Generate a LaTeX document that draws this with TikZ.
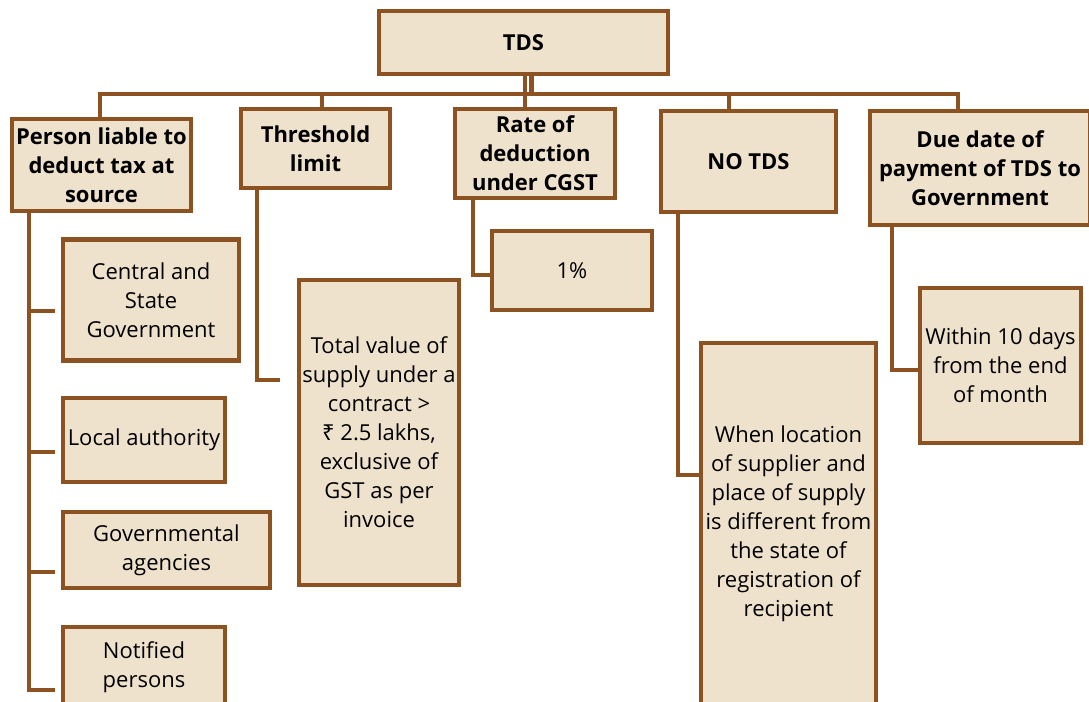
\documentclass[tikz,border=0pt]{standalone}
\usepackage{fontspec}
\setmainfont{Open Sans}
\newfontfamily\rupeefont{Noto Sans}
\usepackage{xcolor}
\usepackage{tikz}
\usetikzlibrary{positioning,calc}
\definecolor{TDSBrown}{RGB}{140,82,33}
\definecolor{TDSBeige}{RGB}{239,226,204}
\tikzset{
    headbox/.style={rectangle, draw=TDSBrown, fill=TDSBeige, line width=3.2pt, inner sep=0pt, align=center, font=\fontsize{16.5}{21.75}\selectfont\bfseries},
    itembox/.style={rectangle, draw=TDSBrown, fill=TDSBeige, line width=3.2pt, inner sep=0pt, align=center, font=\fontsize{16.5}{21.75}\selectfont},
    conn/.style={draw=TDSBrown, line width=3.2pt}
}

\begin{document}
\begin{tikzpicture}[
        % 1 unit = 1 pixel of the layout, y grows downwards
        x=0.75pt, y=-0.75pt
    ]
    \useasboundingbox (0,0) rectangle (1089,701);
    \clip (0,0) rectangle (1089,701);

    % --- ROOT ---
    \node[headbox, minimum width=216.75pt, minimum height=47.25pt] (tds) at (523.5,42.5) {TDS};

    % --- HEADINGS ---
    \node[headbox, minimum width=134.25pt, minimum height=69pt] (person) at (101.5,165) {Person liable to\\deduct tax at\\source};
    \node[headbox, minimum width=111.75pt, minimum height=59.25pt] (threshold) at (315.5,148.5) {Threshold\\limit};
    \node[headbox, minimum width=120pt, minimum height=66.75pt] (rate) at (535,153.5) {Rate of\\deduction\\under CGST};
    \node[headbox, minimum width=131.25pt, minimum height=75.75pt] (notds) at (748.5,161.5) {NO TDS};
    \node[headbox, minimum width=165pt, minimum height=85.5pt] (due) at (980,168) {Due date of\\payment of TDS to\\Government};

    % --- ITEMS ---
    \node[itembox, minimum width=132pt, minimum height=90.75pt] (central) at (151,300) {Central and\\State\\Government};
    \node[itembox, minimum width=121.5pt, minimum height=63pt] (local) at (144,440) {Local authority};
    \node[itembox, minimum width=155.25pt, minimum height=57pt] (govt) at (166.5,550) {Governmental\\agencies};
    \node[itembox, minimum width=121.5pt, minimum height=60pt] (notified) at (144,667) {Notified\\persons};
    \node[itembox, minimum width=120pt, minimum height=228.75pt] (total) at (379,432.5) {Total value of\\supply under a\\contract >\\{\rupeefont ₹} 2.5 lakhs,\\exclusive of\\GST as per\\invoice};
    \node[itembox, minimum width=120pt, minimum height=59.25pt] (one) at (572,270.5) {1\%};
    \node[itembox, minimum width=131.25pt, minimum height=271.5pt] (when) at (788.5,524) {When location\\of supplier and\\place of supply\\is different from\\the state of\\registration of\\recipient};
    \node[itembox, minimum width=120.75pt, minimum height=116.25pt] (within) at (1000.5,365.5) {Within 10 days\\from the end\\of month};

    % --- CONNECTORS: root to headings ---
    \coordinate (busL) at (100,94);
    \coordinate (busR) at (958,94);
    \draw[conn] (busL |- person.north) -- (busL) -- (busR) -- (busR |- due.north);
    \draw[conn] ($(tds.south)+(8,0)$) coordinate (t1) -- (t1 |- busL);
    \draw[conn] ($(tds.south)+(1.5,0)$) coordinate (t2) -- (t2 |- rate.north);
    \draw[conn] ($(threshold.north)+(6.5,0)$) coordinate (t3) -- (t3 |- busL);
    \draw[conn] ($(notds.north)+(-19.5,0)$) coordinate (t4) -- (t4 |- busL);

    % --- CONNECTORS: headings to items ---
    \coordinate (pcol) at ($(person.south)+(-72.5,0)$);
    \draw[conn, shorten >=4.5pt] (pcol) |- ($(central.west)+(0,11)$);
    \draw[conn, shorten >=4.5pt] (pcol) |- ($(local.west)+(0,12)$);
    \draw[conn, shorten >=4.5pt] (pcol) |- ($(govt.west)+(0,22)$);
    \draw[conn, shorten >=4.5pt] (pcol) |- ($(notified.west)+(0,23)$);
    \draw[conn, shorten >=12.75pt] ($(threshold.south)+(-58.5,0)$) |- ($(total.west)+(0,-52.5)$);
    \draw[conn] ($(rate.south)+(-62,0)$) |- ($(one.west)+(0,4.5)$);
    \draw[conn] ($(notds.south)+(-70.5,0)$) |- ($(when.west)+(0,-49)$);
    \draw[conn] ($(due.south)+(-88,0)$) |- ($(within.west)+(0,4.5)$);

\end{tikzpicture}
\end{document}
